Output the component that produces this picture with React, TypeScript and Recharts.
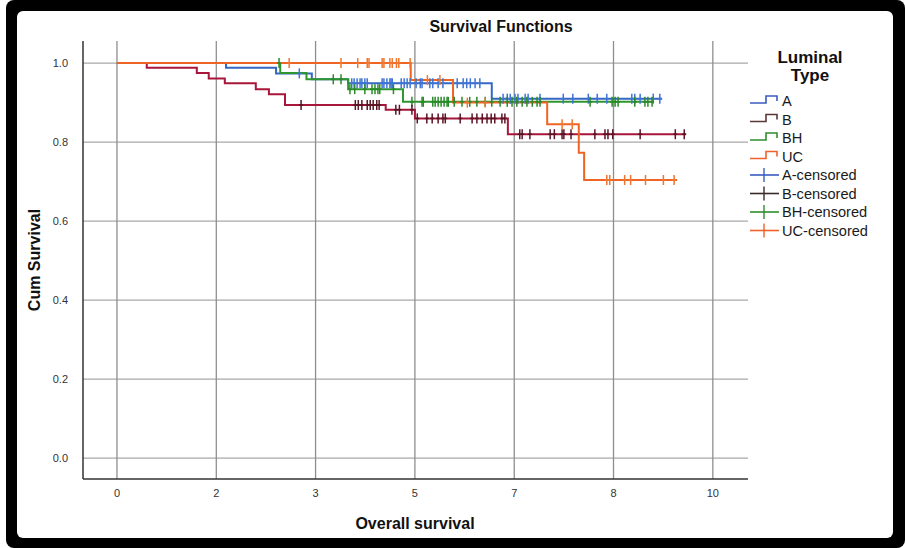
import React from "react";
import {
  ComposedChart,
  Line,
  Scatter,
  XAxis,
  YAxis,
  ReferenceLine,
} from "recharts";

// --- data (time, cumulative survival) ---

const A_TIMES = [0, 1.83, 2.67, 3.27, 3.88, 6.29, 9.15];
const A_SURV = [1.0, 0.988, 0.974, 0.959, 0.949, 0.91, 0.91];

const B_TIMES = [0, 0.5, 1.34, 1.54, 1.81, 2.33, 2.55, 2.82, 4.51, 5.0, 6.56, 9.55];
const B_SURV = [1.0, 0.988, 0.975, 0.961, 0.949, 0.934, 0.921, 0.894, 0.882, 0.86, 0.82, 0.82];

const BH_TIMES = [0, 2.74, 3.18, 3.88, 4.8, 8.98];
const BH_SURV = [1.0, 0.975, 0.959, 0.934, 0.902, 0.902];

const UC_TIMES = [0, 4.93, 5.64, 7.22, 7.75, 7.84, 9.4];
const UC_SURV = [1.0, 0.957, 0.9, 0.845, 0.773, 0.704, 0.704];

const A_CENSORED = [
  3.06, 3.94, 3.98, 4.03, 4.08, 4.11, 4.16, 4.2, 4.45, 4.48, 4.53, 4.58, 4.6, 4.62,
  4.77, 4.82, 4.87, 4.92, 5.02, 5.09, 5.12, 5.25, 5.3, 5.39, 5.47, 5.71, 5.81, 5.87,
  5.93, 6.01, 6.09, 6.48, 6.55, 6.6, 6.68, 6.73, 6.85, 6.9, 7.1, 7.49, 7.65, 7.91,
  8.06, 8.22, 8.64, 8.69, 8.78, 9.0, 9.11,
];
const B_CENSORED = [
  3.09, 4.0, 4.05, 4.11, 4.2, 4.25, 4.3, 4.36, 4.4, 4.68, 4.74, 4.95, 5.04, 5.2, 5.29,
  5.39, 5.47, 5.51, 5.76, 5.96, 6.04, 6.13, 6.21, 6.28, 6.34, 6.46, 6.51, 6.76, 6.8,
  6.93, 7.27, 7.34, 7.47, 7.5, 7.62, 8.02, 8.19, 8.24, 8.32, 8.78, 9.37, 9.52,
];
const BH_CENSORED = [
  2.72, 3.63, 3.76, 3.91, 3.99, 4.16, 4.28, 4.33, 4.38, 4.41, 4.64, 4.95, 5.12, 5.14,
  5.3, 5.34, 5.39, 5.44, 5.49, 5.54, 5.56, 5.66, 5.79, 5.92, 6.04, 6.18, 6.29, 6.43,
  6.55, 6.63, 6.71, 6.8, 6.88, 6.97, 7.05, 7.1, 7.94, 8.31, 8.36, 8.41, 8.69, 8.86,
  8.91, 8.98,
];
const UC_CENSORED = [
  2.89, 3.76, 4.04, 4.2, 4.23, 4.45, 4.48, 4.58, 4.62, 4.69, 4.73, 4.92, 5.21, 5.42,
  5.88, 6.18, 7.47, 7.64, 8.22, 8.27, 8.52, 8.62, 8.87, 9.17, 9.35,
];

const X_TICKS = [0, 1.667, 3.333, 5, 6.667, 8.333, 10];
const X_TICK_LABELS = ["0", "2", "3", "5", "7", "8", "10"];
const Y_TICKS = [0, 0.2, 0.4, 0.6, 0.8, 1.0];

const LEGEND_LABELS = ["A", "B", "BH", "UC", "A-censored", "B-censored", "BH-censored", "UC-censored"];

// --- styling ---

const FONT = "'Liberation Sans', Arial, Helvetica, sans-serif";

const COLORS = {
  A: "#3568c4",
  B: "#a8163a",
  BH: "#2f962f",
  UC: "#ee6424",
};
const CENSOR_COLORS = {
  A: "#3f74d4",
  B: "#5a1526",
  BH: "#2a8a2a",
  UC: "#f0752e",
};
const LEGEND_COLORS = ["#3a5cc0", "#5a3838", "#2f8f2f", "#f0622a", "#3a5cc0", "#3a2a2a", "#2f8f2f", "#f0622a"];

function toSteps(times: number[], surv: number[]) {
  return times.map((t, i) => ({ t, s: surv[i] }));
}

// survival value at a censoring time: the step level in force at that time
function censorPoints(times: number[], surv: number[], cens: number[]) {
  return cens.map((t) => {
    let s = surv[0];
    for (let i = 0; i < times.length; i++) {
      if (times[i] <= t) s = surv[i];
    }
    return { t, s };
  });
}

function CensorMark(props: { cx?: number; cy?: number; fill?: string }) {
  const { cx = 0, cy = 0, fill } = props;
  return (
    <g>
      <line x1={cx} y1={cy - 5} x2={cx} y2={cy + 5} stroke={fill} strokeWidth={1.5} />
      <line x1={cx - 2} y1={cy} x2={cx + 2} y2={cy} stroke={fill} strokeWidth={1.5} />
    </g>
  );
}

function Legend() {
  const rowY = [101, 119.5, 138, 156.5, 175, 193.5, 212, 230.5];
  return (
    <g fontFamily={FONT}>
      <text x={810} y={63} textAnchor="middle" fontSize={17} fontWeight="bold" fill="#111">
        Luminal
      </text>
      <text x={810} y={81} textAnchor="middle" fontSize={17} fontWeight="bold" fill="#111">
        Type
      </text>
      {LEGEND_LABELS.map((label, i) => {
        const y = rowY[i];
        const c = LEGEND_COLORS[i];
        return (
          <g key={label}>
            {i < 4 ? (
              <path
                d={`M750,${y + 2} H766 V${y - 5} H777 V${y}`}
                fill="none"
                stroke={c}
                strokeWidth={1.6}
              />
            ) : (
              <g>
                <line x1={750} y1={y} x2={779} y2={y} stroke={c} strokeWidth={1.6} />
                <line x1={764} y1={y - 7} x2={764} y2={y + 7} stroke={c} strokeWidth={1.4} />
              </g>
            )}
            <text x={782} y={y + 5} fontSize={14.6} fill="#1a1a1a">
              {label}
            </text>
          </g>
        );
      })}
    </g>
  );
}

export default function App() {
  const series = [
    { key: "B", data: toSteps(B_TIMES, B_SURV) },
    { key: "A", data: toSteps(A_TIMES, A_SURV) },
    { key: "BH", data: toSteps(BH_TIMES, BH_SURV) },
    { key: "UC", data: toSteps(UC_TIMES, UC_SURV) },
  ] as const;

  const censored = [
    { key: "A", data: censorPoints(A_TIMES, A_SURV, A_CENSORED) },
    { key: "BH", data: censorPoints(BH_TIMES, BH_SURV, BH_CENSORED) },
    { key: "B", data: censorPoints(B_TIMES, B_SURV, B_CENSORED) },
    { key: "UC", data: censorPoints(UC_TIMES, UC_SURV, UC_CENSORED) },
  ] as const;

  return (
    <div style={{ position: "relative", width: 905, height: 548, background: "#fff", overflow: "hidden" }}>
      <style>{"body{margin:0}"}</style>
      {/* black frame */}
      <div style={{ position: "absolute", left: 6, top: 0, width: 899, height: 548, background: "#000", borderRadius: 8 }} />
      <div style={{ position: "absolute", left: 17, top: 11, width: 876, height: 527, background: "#fff", borderRadius: 6 }} />

      <div style={{ position: "absolute", left: 0, top: 0 }}>
        <ComposedChart
          width={905}
          height={548}
          margin={{ top: 41, right: 157, bottom: 39, left: 43 }}
          style={{ fontFamily: FONT }}
        >
          <XAxis
            dataKey="t"
            type="number"
            domain={[-0.57, 10.59]}
            ticks={X_TICKS}
            tickFormatter={(v: number) => X_TICK_LABELS[X_TICKS.indexOf(v)] ?? ""}
            allowDataOverflow
            height={30}
            tickLine={false}
            tickSize={6}
            tickMargin={4}
            axisLine={{ stroke: "#333", strokeWidth: 1.5 }}
            tick={{ fill: "#333", fontSize: 11, fontFamily: FONT }}
          />
          <YAxis
            type="number"
            domain={[-0.053, 1.056]}
            ticks={Y_TICKS}
            tickFormatter={(v: number) => v.toFixed(1)}
            allowDataOverflow
            width={40}
            tickLine={false}
            tickSize={6}
            tickMargin={9}
            axisLine={{ stroke: "#333", strokeWidth: 1.5 }}
            tick={{ fill: "#333", fontSize: 11, fontFamily: FONT }}
          />
          {Y_TICKS.map((v) => (
            <ReferenceLine key={`gy-${v}`} y={v} stroke="#a8a8a8" strokeWidth={1.3} />
          ))}
          {X_TICKS.map((v) => (
            <ReferenceLine key={`gx-${v}`} x={v} stroke="#8e8e8e" strokeWidth={1.3} />
          ))}
          {series.map((s) => (
            <Line
              key={s.key}
              data={s.data as any}
              dataKey="s"
              type="stepAfter"
              stroke={COLORS[s.key]}
              strokeWidth={2}
              dot={false}
              activeDot={false}
              isAnimationActive={false}
            />
          ))}
          {censored.map((c) => (
            <Scatter
              key={`cens-${c.key}`}
              data={c.data as any}
              dataKey="s"
              fill={CENSOR_COLORS[c.key]}
              shape={<CensorMark />}
              isAnimationActive={false}
            />
          ))}
        </ComposedChart>
      </div>

      <svg width={905} height={548} style={{ position: "absolute", left: 0, top: 0, pointerEvents: "none" }}>
        <text x={501} y={32} textAnchor="middle" fontFamily={FONT} fontSize={16} fontWeight="bold" fill="#111">
          Survival Functions
        </text>
        <text
          x={0}
          y={0}
          transform="translate(40,260) rotate(-90)"
          textAnchor="middle"
          fontFamily={FONT}
          fontSize={16}
          fontWeight="bold"
          fill="#111"
        >
          Cum Survival
        </text>
        <text x={415} y={529} textAnchor="middle" fontFamily={FONT} fontSize={16} fontWeight="bold" fill="#111">
          Overall survival
        </text>
        <Legend />
      </svg>
    </div>
  );
}
